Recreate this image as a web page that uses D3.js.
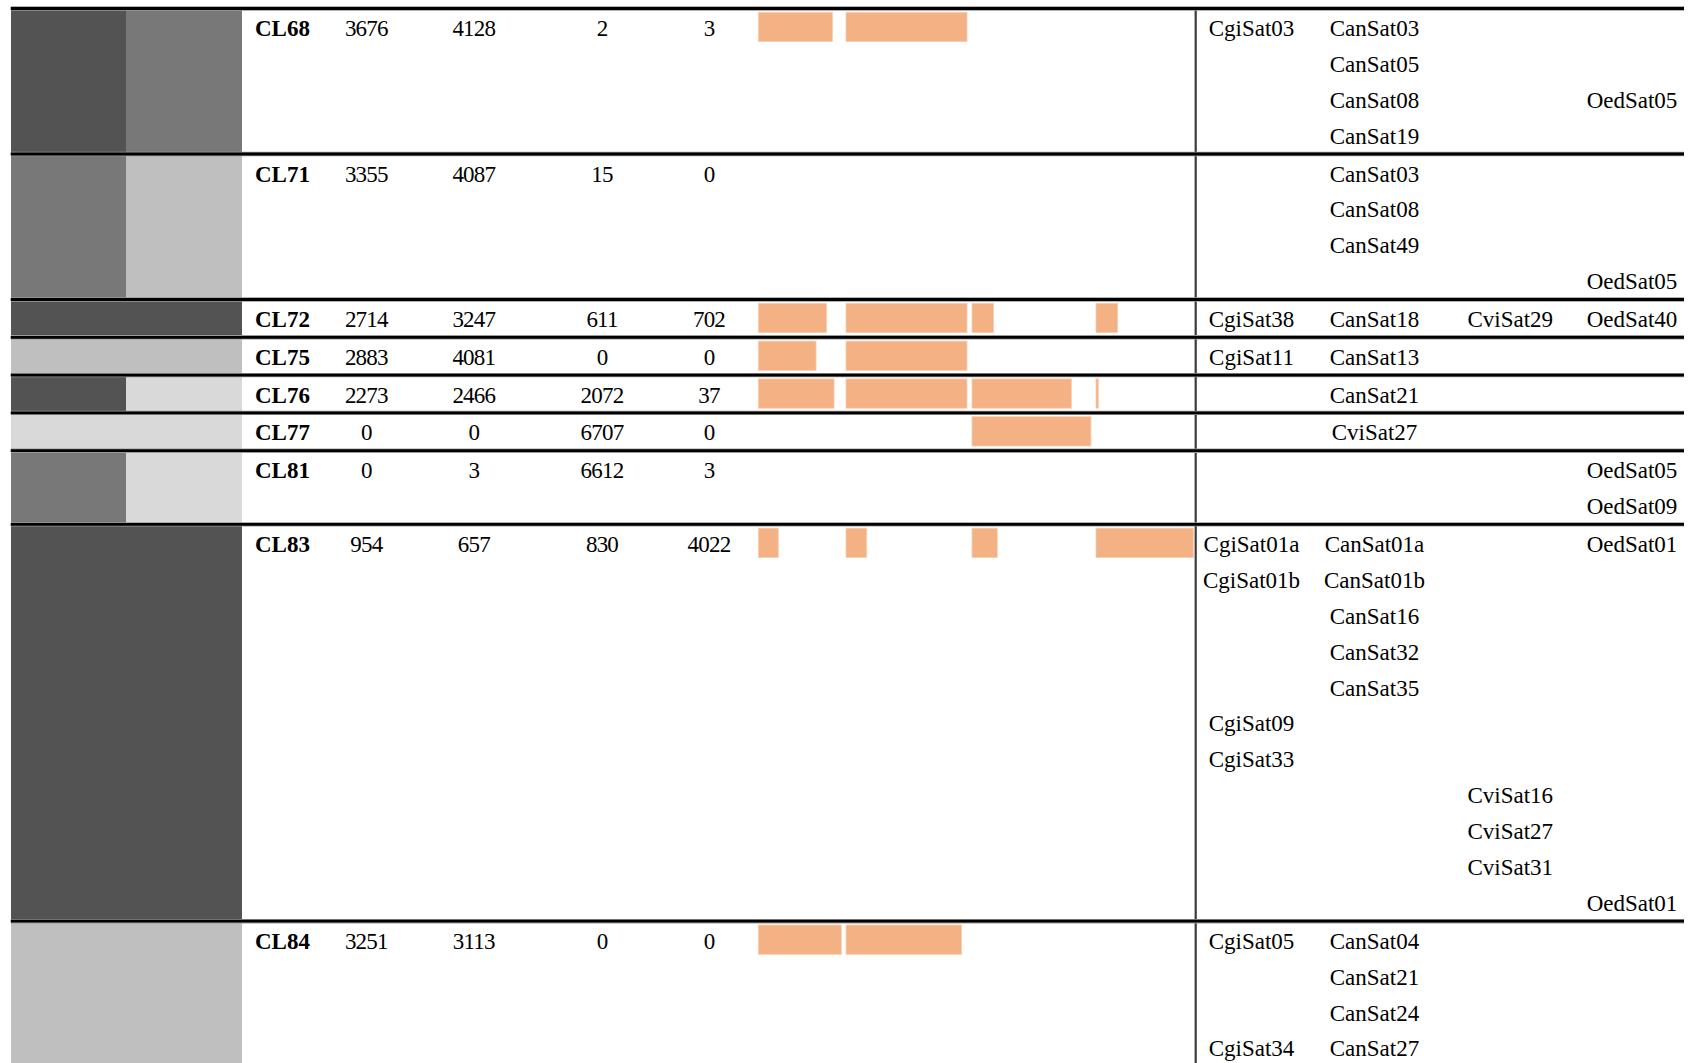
<!DOCTYPE html>
<html>
<head>
<meta charset="utf-8">
<script src="https://cdn.jsdelivr.net/npm/d3@7"></script>
<style>
  html, body { margin: 0; padding: 0; background: #fff; overflow: hidden; }
  svg { display: block; }
  text { font-family: "Liberation Serif", "Times New Roman", serif; fill: #000; }
</style>
</head>
<body>
<svg id="chart" width="1695" height="1063"></svg>
<script>
// ---------------- DATA ----------------
const clusters = ["CL68", "CL71", "CL72", "CL75", "CL76", "CL77", "CL81", "CL83", "CL84"];

// read counts (4 samples)
const count1 = [3676, 3355, 2714, 2883, 2273, 0, 0, 954, 3251];
const count2 = [4128, 4087, 3247, 4081, 2466, 0, 3, 657, 3113];
const count3 = [2, 15, 611, 0, 2072, 6707, 6612, 830, 0];
const count4 = [3, 0, 702, 0, 37, 0, 3, 4022, 0];

// relative bar levels (0-100)
const bar1 = [61.2, 0, 56.4, 47.7, 62.6, 0, 0, 16.5, 68.6];
const bar2 = [100, 0, 100, 100, 100, 0, 0, 17.1, 95.6];
const bar3 = [0, 0, 17.9, 0, 82.1, 98.3, 0, 20.9, 0];
const bar4 = [0, 0, 17.9, 0, 1.9, 0, 0, 80.4, 0];

// gray-level classes of the two left colour columns (1 = lightest, 4 = darkest)
const levelA = [4, 3, 4, 2, 4, 1, 3, 4, 2];
const levelB = [3, 2, 4, 2, 1, 1, 1, 4, 2];

// marker lines per cluster: [Cgi, Can, Cvi, Oed]
const markerLines = [
  [["CgiSat03", "CanSat03", "", ""], ["", "CanSat05", "", ""], ["", "CanSat08", "", "OedSat05"], ["", "CanSat19", "", ""]],
  [["", "CanSat03", "", ""], ["", "CanSat08", "", ""], ["", "CanSat49", "", ""], ["", "", "", "OedSat05"]],
  [["CgiSat38", "CanSat18", "CviSat29", "OedSat40"]],
  [["CgiSat11", "CanSat13", "", ""]],
  [["", "CanSat21", "", ""]],
  [["", "CviSat27", "", ""]],
  [["", "", "", "OedSat05"], ["", "", "", "OedSat09"]],
  [["CgiSat01a", "CanSat01a", "", "OedSat01"], ["CgiSat01b", "CanSat01b", "", ""], ["", "CanSat16", "", ""],
   ["", "CanSat32", "", ""], ["", "CanSat35", "", ""], ["CgiSat09", "", "", ""], ["CgiSat33", "", "", ""],
   ["", "", "CviSat16", ""], ["", "", "CviSat27", ""], ["", "", "CviSat31", ""], ["", "", "", "OedSat01"]],
  [["CgiSat05", "CanSat04", "", ""], ["", "CanSat21", "", ""], ["", "CanSat24", "", ""], ["CgiSat34", "CanSat27", "", ""]]
];

// ---------------- LAYOUT ----------------
const W = 1695, H = 1063;
const svg = d3.select("#chart");

const top0 = 8.5;
const rowHeight = d3.scaleLinear().domain([0, 1]).range([1.9, 37.8]); // height for n text lines
const heights = markerLines.map(l => rowHeight(l.length));
const tops = [top0].concat(Array.from(d3.cumsum(heights), c => top0 + c));
const lineStep = rowHeight(1) - rowHeight(0);
const baseOff = 27.5;

const grayColor = d3.scaleOrdinal().domain([1, 2, 3, 4]).range(["#d9d9d9", "#bfbfbf", "#787878", "#535353"]);
const colX = { aL: 10.8, aR: 125.5, bR: 242.3 };

const countX = d3.scaleOrdinal().domain([0, 1, 2, 3]).range([366.3, 473.8, 602, 709]);
const markerX = d3.scaleOrdinal().domain([0, 1, 2, 3]).range([1251.5, 1374.5, 1510.3, 1632]);
const groupX = d3.scaleOrdinal().domain([0, 1, 2, 3]).range([758.3, 846, 972, 1096]);
const barLen = d3.scaleLinear().domain([0, 100]).range([0, 121]);

const counts = [count1, count2, count3, count4];
const bars = [bar1, bar2, bar3, bar4];

const rows = clusters.map((c, i) => ({
  name: c, i,
  y0: tops[i], y1: Math.min(tops[i + 1], H),
  counts: counts.map(a => a[i]),
  bars: bars.map(a => a[i]),
  la: levelA[i], lb: levelB[i],
  lines: markerLines[i]
}));

// ---------------- GRAY CELLS ----------------
const gCells = svg.append("g").attr("shape-rendering", "crispEdges");
// column A drawn across both columns, column B painted over it (avoids seams)
gCells.selectAll("rect.a").data(rows).join("rect")
  .attr("class", "a")
  .attr("x", colX.aL).attr("width", colX.bR - colX.aL)
  .attr("y", d => d.y0).attr("height", d => d.y1 - d.y0)
  .attr("fill", d => grayColor(d.la));
gCells.selectAll("rect.b").data(rows.filter(r => r.lb !== r.la)).join("rect")
  .attr("class", "b")
  .attr("x", colX.aR).attr("width", colX.bR - colX.aR)
  .attr("y", d => d.y0).attr("height", d => d.y1 - d.y0)
  .attr("fill", d => grayColor(d.lb));

// ---------------- BARS ----------------
const barData = rows.flatMap(r => r.bars.map((v, g) => ({ r, g, v }))).filter(d => d.v > 0);
svg.append("g").selectAll("rect").data(barData).join("rect")
  .attr("x", d => groupX(d.g))
  .attr("width", d => Math.max(1.5, barLen(d.v)))
  .attr("y", d => d.r.y0 + 3.8)
  .attr("height", 29.3)
  .attr("fill", "#f4b183")
  .attr("stroke", "#f8cdb0")
  .attr("stroke-width", 0.8);

// ---------------- GRID LINES ----------------
svg.append("line")
  .attr("x1", 1195.7).attr("x2", 1195.7)
  .attr("y1", top0).attr("y2", H)
  .attr("stroke", "#3a3a3a").attr("stroke-width", 2.2);

const hLines = tops.filter(t => t < H);
const gl = svg.append("g");
gl.selectAll("line.halo").data(hLines).join("line")
  .attr("class", "halo")
  .attr("x1", 10.8).attr("x2", 1684)
  .attr("y1", d => d).attr("y2", d => d)
  .attr("stroke", "#9a9a9a").attr("stroke-width", 4.4);
gl.selectAll("line.main").data(hLines).join("line")
  .attr("class", "main")
  .attr("x1", 10.8).attr("x2", 1684)
  .attr("y1", d => d).attr("y2", d => d)
  .attr("stroke", "#000").attr("stroke-width", 2.8);

// ---------------- TEXT ----------------
const gt = svg.append("g");
gt.selectAll("text.cl").data(rows).join("text")
  .attr("class", "cl")
  .attr("x", 255).attr("y", d => d.y0 + baseOff)
  .attr("font-size", 23).attr("font-weight", "bold")
  .text(d => d.name);

const countData = rows.flatMap(r => r.counts.map((v, k) => ({ r, k, v })));
gt.selectAll("text.cnt").data(countData).join("text")
  .attr("class", "cnt")
  .attr("x", d => countX(d.k)).attr("y", d => d.r.y0 + baseOff)
  .attr("text-anchor", "middle")
  .attr("font-size", 23)
  .attr("letter-spacing", "-0.8px")
  .text(d => d.v);

const markerData = rows.flatMap(r => r.lines.flatMap((line, j) =>
  line.map((m, k) => ({ r, j, k, m })))).filter(d => d.m !== "");
gt.selectAll("text.mk").data(markerData).join("text")
  .attr("class", "mk")
  .attr("x", d => markerX(d.k))
  .attr("y", d => d.r.y0 + baseOff + d.j * lineStep)
  .attr("text-anchor", "middle")
  .attr("font-size", 23)
  .text(d => d.m);
</script>
</body>
</html>
